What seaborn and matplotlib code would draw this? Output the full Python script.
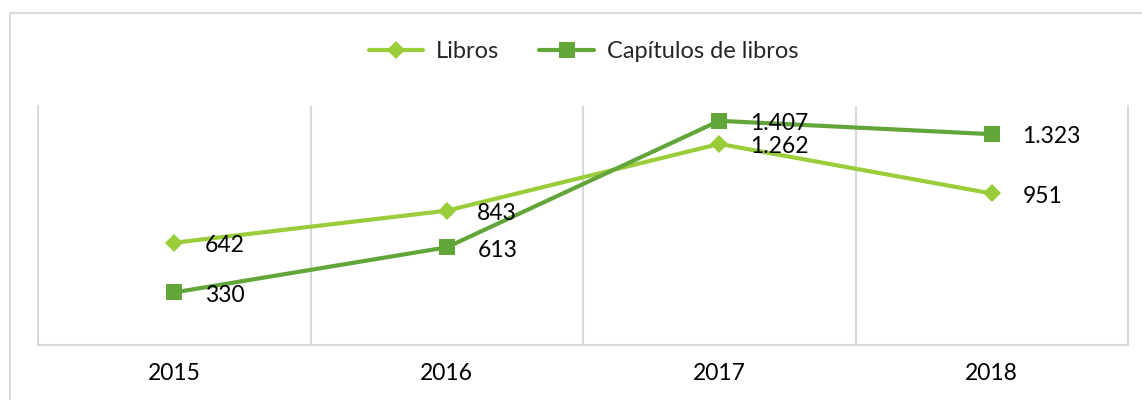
"""
Libros vs capítulos de libros por año, estilo Excel.
"""

import pandas as pd
import matplotlib.pyplot as plt
from matplotlib.patches import Rectangle
import seaborn as sns


YEARS = [2015, 2016, 2017, 2018]
LIBROS = [642, 843, 1262, 951]
CAPITULOS = [330, 613, 1407, 1323]
SERIES_NAMES = ["Libros", "Capítulos de libros"]
COLORS = ["#9ACD3A", "#62A63A"]
GRID = "#D9D9D9"


def fmt_es(v):
    return f"{v:,}".replace(",", ".")


def main():
    sns.set_theme(style="white")
    plt.rcParams["font.family"] = ["Lato", "DejaVu Sans"]

    df = pd.DataFrame({
        "year": YEARS * 2,
        "value": LIBROS + CAPITULOS,
        "serie": [SERIES_NAMES[0]] * len(YEARS) + [SERIES_NAMES[1]] * len(YEARS),
    })

    fig = plt.figure(figsize=(11.42, 4.0), dpi=100)
    ax = fig.add_axes([38 / 1142, 1 - 345 / 400, (1128 - 38) / 1142, (345 - 106) / 400])

    sns.lineplot(
        data=df, x="year", y="value", hue="serie", style="serie",
        hue_order=SERIES_NAMES, style_order=SERIES_NAMES,
        palette=COLORS, markers=["D", "s"], dashes=False,
        markersize=11, markeredgewidth=0, linewidth=3.0,
        ax=ax, legend="full",
    )
    for line in ax.lines:
        if line.get_marker() == "s":
            line.set_markersize(11.5)
        elif line.get_marker() == "D":
            line.set_markersize(9)

    # data labels to the right of each point
    for vals in (LIBROS, CAPITULOS):
        for yr, v in zip(YEARS, vals):
            ax.annotate(fmt_es(v), (yr, v), xytext=(22, -2), textcoords="offset points",
                        ha="left", va="center", fontsize=16.5, color="black")

    ax.set_xlim(YEARS[0] - 0.5, YEARS[-1] + 0.5)
    ax.set_ylim(0, 1500)
    ax.set_xticks(YEARS)
    ax.set_xticklabels([str(y) for y in YEARS], fontsize=16.5)
    ax.set_xticks([y + 0.5 for y in YEARS[:-1]], minor=True)
    ax.set_yticks([])
    ax.set_xlabel("")
    ax.set_ylabel("")
    ax.tick_params(axis="x", which="both", length=0, pad=13, labelcolor="black")
    ax.grid(axis="x", which="minor", color=GRID, linewidth=1.5)
    ax.grid(axis="x", which="major", visible=False)
    ax.grid(axis="y", visible=False)
    ax.set_axisbelow(True)

    ax.spines["top"].set_visible(False)
    for side in ("left", "right", "bottom"):
        ax.spines[side].set_color(GRID)
        ax.spines[side].set_linewidth(1.5)

    handles, labels = ax.get_legend_handles_labels()
    leg = fig.legend(
        handles, labels, loc="center", bbox_to_anchor=(583.5 / 1142, 1 - 52 / 400),
        ncol=2, frameon=False, fontsize=17, handlelength=2.3,
        handletextpad=0.55, columnspacing=1.7,
    )
    for h in leg.legend_handles:
        h.set_linewidth(3.0)
    if ax.get_legend():
        ax.get_legend().remove()

    # outer chart border
    fig.patches.append(Rectangle((9.5 / 1142, -0.1), 1.2, 1 - 13.5 / 400 + 0.1,
                                 transform=fig.transFigure, fill=False,
                                 edgecolor=GRID, linewidth=1.5))

    fig.savefig("out.png", dpi=100)


if __name__ == "__main__":
    main()
